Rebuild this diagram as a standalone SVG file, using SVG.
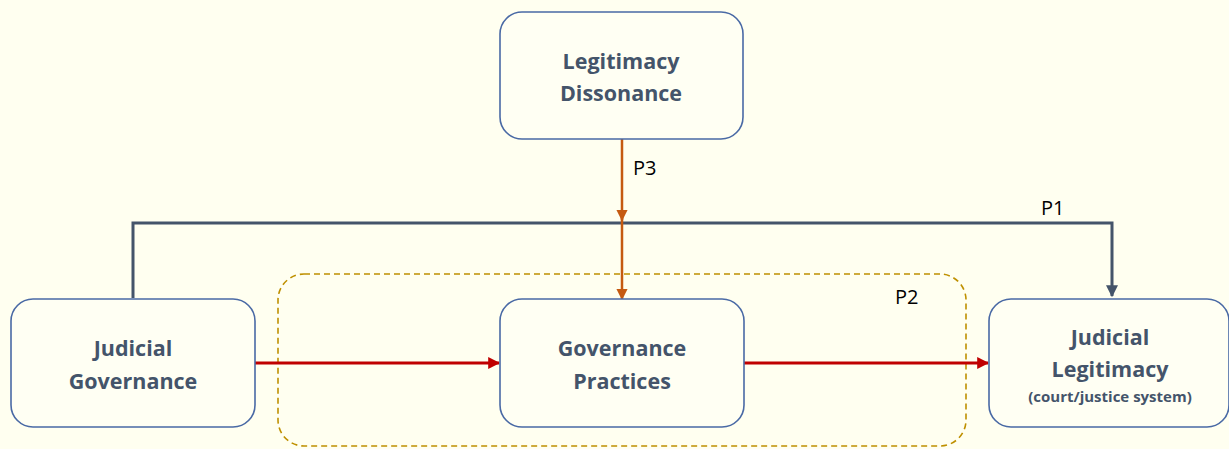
<svg xmlns="http://www.w3.org/2000/svg" width="1229" height="449" viewBox="0 0 1229 449">
<style>
.box{fill:#FFFFF3;stroke:#4A6AA5;stroke-width:1.6}
.t{font-family:"Open Sans","Liberation Sans",sans-serif;font-weight:bold;font-size:21.5px;fill:#44546A;text-anchor:middle}
.s{font-family:"Open Sans","Liberation Sans",sans-serif;font-weight:bold;font-size:15px;fill:#44546A;text-anchor:middle}
.lbl{font-family:"Open Sans","Liberation Sans",sans-serif;font-size:20px;fill:#000}
</style>
<defs>
<marker id="ab" viewBox="0 0 10 10" refX="9" refY="5" markerWidth="4" markerHeight="4" orient="auto" markerUnits="strokeWidth"><path d="M0,0L10,5L0,10z" fill="#44546A"/></marker>
<marker id="ao" viewBox="0 0 10 10" refX="9" refY="5" markerWidth="4.5" markerHeight="4.5" orient="auto" markerUnits="strokeWidth"><path d="M0,0L10,5L0,10z" fill="#C55A11"/></marker>
<marker id="ar" viewBox="0 0 10 10" refX="9" refY="5" markerWidth="4" markerHeight="4" orient="auto" markerUnits="strokeWidth"><path d="M0,0L10,5L0,10z" fill="#C00000"/></marker>
</defs>
<rect width="1229" height="449" fill="#FFFFF0"/>
<g id="p2-group">
<rect x="278" y="274" width="688" height="172" rx="26" fill="none" stroke="#BF9000" stroke-width="1.6" stroke-dasharray="6,4"/>
<text class="lbl" x="895" y="304">P2</text>
</g>
<g id="connectors">
<path d="M133,298 V223 H1112 V296" fill="none" stroke="#44546A" stroke-width="3" marker-end="url(#ab)"/>
<line x1="622" y1="139" x2="622" y2="220" stroke="#C55A11" stroke-width="2.5" marker-end="url(#ao)"/>
<line x1="622" y1="215" x2="622" y2="299" stroke="#C55A11" stroke-width="2.5" marker-end="url(#ao)"/>
<line x1="255" y1="363" x2="499" y2="363" stroke="#C00000" stroke-width="3" marker-end="url(#ar)"/>
<line x1="744" y1="363" x2="988" y2="363" stroke="#C00000" stroke-width="3" marker-end="url(#ar)"/>
<text class="lbl" x="633" y="175">P3</text>
<text class="lbl" x="1041" y="215">P1</text>
</g>
<g id="legitimacy-dissonance">
<rect class="box" x="500" y="12" width="243" height="127" rx="22"/>
<text class="t" x="621" y="69">Legitimacy</text>
<text class="t" x="621" y="101">Dissonance</text>
</g>
<g id="judicial-governance">
<rect class="box" x="11" y="299" width="244" height="128" rx="22"/>
<text class="t" x="133" y="356">Judicial</text>
<text class="t" x="133" y="389">Governance</text>
</g>
<g id="governance-practices">
<rect class="box" x="500" y="299" width="244" height="128" rx="22"/>
<text class="t" x="622" y="356">Governance</text>
<text class="t" x="622" y="389">Practices</text>
</g>
<g id="judicial-legitimacy">
<rect class="box" x="989" y="299" width="240" height="128" rx="22"/>
<text class="t" x="1110" y="345">Judicial</text>
<text class="t" x="1110" y="377">Legitimacy</text>
<text class="s" x="1110" y="402">(court/justice system)</text>
</g>
</svg>
